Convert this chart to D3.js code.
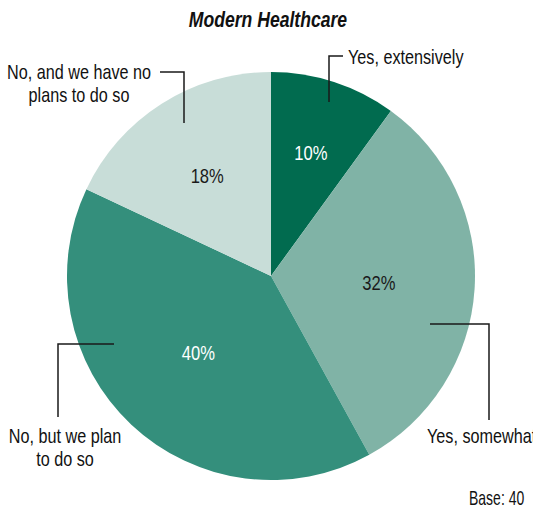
<!DOCTYPE html>
<html>
<head>
<meta charset="utf-8">
<script src="https://cdn.jsdelivr.net/npm/d3@7"></script>
<style>
  body { margin: 0; background: #fff; }
  svg { display: block; }
  text { font-family: "Liberation Sans", Arial, sans-serif; }
</style>
</head>
<body>
<svg id="chart" width="533" height="510"></svg>
<script>
// ---- data ----
const categories = ["Yes, extensively", "Yes, somewhat", "No, but we plan to do so", "No, and we have no plans to do so"];
const values = [10, 32, 40, 18];
const labelLines = [["Yes, extensively"], ["Yes, somewhat"], ["No, but we plan", "to do so"], ["No, and we have no", "plans to do so"]];
const colors = ["#016b4f", "#80b3a6", "#348f7c", "#c8ddd8"];
const pctColors = ["#ffffff", "#1a1a1a", "#ffffff", "#1a1a1a"];
const title = "Modern Healthcare";
const baseNote = "Base: 40";

// ---- layout ----
const cx = 271, cy = 276, R = 204;
const pctRadius = [129, 108, 106, 119];
const condense = 0.79;     // horizontal squeeze to imitate a condensed face
// leader polylines (offsets from pie centre), label anchor position & alignment
const leaders = [
  { pts: [[58, -174], [58, -220], [72, -220]], tx: 77, ty: -212, anchor: "start" },
  { pts: [[159, 48], [218, 48], [218, 144]], tx: 156, ty: 167, anchor: "start" },
  { pts: [[-157, 68], [-213, 68], [-213, 141]], tx: -206, ty: 167, anchor: "middle" },
  { pts: [[-87, -153], [-87, -204], [-111, -204]], tx: -192, ty: -197, anchor: "middle" }
];
const lineGap = 23.5;

const svg = d3.select("#chart");

function addText(parent, x, y, lines, o) {
  const t = parent.append("text")
    .attr("transform", `translate(${x},${y}) scale(${o.sx},1)`)
    .attr("text-anchor", o.anchor || "start")
    .attr("font-size", o.size)
    .attr("fill", o.fill || "#111");
  if (o.weight) t.attr("font-weight", o.weight);
  if (o.style) t.attr("font-style", o.style);
  lines.forEach((ln, j) => {
    t.append("tspan").attr("x", 0).attr("y", j * lineGap).attr("dy", o.dy || null).text(ln);
  });
  return t;
}

addText(svg, 268, 27, [title], { sx: 0.8, size: 22, weight: "bold", style: "italic", anchor: "middle" });

const g = svg.append("g").attr("transform", `translate(${cx},${cy})`);

const pie = d3.pie().sort(null).value(d => d)(values);
const arc = d3.arc().innerRadius(0).outerRadius(R);

g.selectAll("path.slice").data(pie).join("path")
  .attr("class", "slice")
  .attr("d", arc)
  .attr("fill", (d, i) => colors[i]);

// percentage labels
pie.forEach((d, i) => {
  const c = d3.arc().innerRadius(pctRadius[i]).outerRadius(pctRadius[i]).centroid(d);
  addText(g, c[0], c[1], [d3.format(".0f")(d.data) + "%"],
    { sx: 0.85, size: 19.5, anchor: "middle", fill: pctColors[i], dy: "0.36em" });
});

// leader lines
const line = d3.line();
g.selectAll("path.leader").data(leaders).join("path")
  .attr("class", "leader")
  .attr("d", d => line(d.pts))
  .attr("fill", "none")
  .attr("stroke", "#1a1a1a")
  .attr("stroke-width", 1.5);

// category labels
leaders.forEach((d, i) => {
  addText(g, d.tx, d.ty, labelLines[i], { sx: condense, size: 20.5, anchor: d.anchor });
});

addText(svg, 469, 505, [baseNote], { sx: 0.7, size: 20 });
</script>
</body>
</html>
